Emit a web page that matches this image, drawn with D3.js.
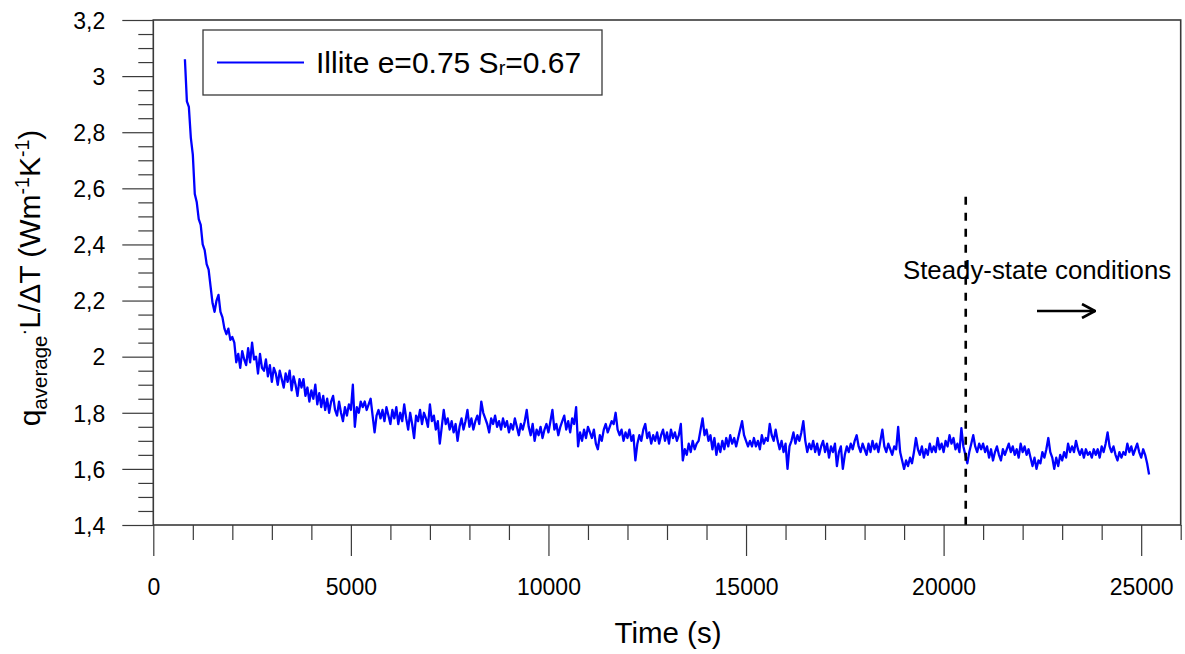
<!DOCTYPE html>
<html>
<head>
<meta charset="utf-8">
<script src="https://cdn.jsdelivr.net/npm/d3@7"></script>
<style>
  html, body { margin: 0; padding: 0; background: #fff; }
  svg { display: block; font-family: "Liberation Sans", Arial, sans-serif; }
</style>
</head>
<body>
<svg id="chart" width="1185" height="654"></svg>
<script>
// Logged measurement: first sample time and logging interval (s)
const sampleStart = 800;
const sampleStep = 50;

// q_average·L/ΔT readings (W m-1 K-1), one row per 1000 s of logging
const kValues = [
  3.06, 2.91, 2.89, 2.78, 2.72, 2.58, 2.55, 2.49, 2.47, 2.40, 2.38, 2.33, 2.31, 2.25, 2.19, 2.16, 2.20, 2.22, 2.16, 2.14,
  2.10, 2.08, 2.10, 2.06, 2.07, 2.05, 1.98, 2.01, 1.96, 2.02, 1.99, 1.97, 2.03, 1.98, 2.05, 1.99, 2.00, 1.94, 2.01, 1.96,
  1.95, 1.99, 1.93, 1.97, 1.91, 1.96, 1.94, 1.90, 1.95, 1.92, 1.89, 1.94, 1.91, 1.95, 1.88, 1.93, 1.90, 1.86, 1.92, 1.89,
  1.92, 1.86, 1.89, 1.84, 1.88, 1.85, 1.90, 1.83, 1.87, 1.82, 1.86, 1.81, 1.85, 1.80, 1.84, 1.86, 1.81, 1.79, 1.84, 1.80,
  1.77, 1.82, 1.79, 1.83, 1.81, 1.90, 1.75, 1.82, 1.80, 1.84, 1.82, 1.84, 1.81, 1.83, 1.85, 1.79, 1.73, 1.79, 1.81, 1.78,
  1.81, 1.77, 1.82, 1.79, 1.76, 1.81, 1.78, 1.82, 1.76, 1.80, 1.77, 1.83, 1.78, 1.74, 1.80, 1.76, 1.71, 1.79, 1.77, 1.81,
  1.76, 1.80, 1.78, 1.75, 1.83, 1.77, 1.79, 1.74, 1.77, 1.69, 1.75, 1.81, 1.76, 1.78, 1.74, 1.77, 1.73, 1.76, 1.70, 1.75,
  1.78, 1.74, 1.77, 1.81, 1.75, 1.78, 1.74, 1.77, 1.79, 1.76, 1.84, 1.80, 1.78, 1.76, 1.73, 1.78, 1.76, 1.79, 1.75, 1.77,
  1.74, 1.78, 1.75, 1.77, 1.73, 1.76, 1.74, 1.78, 1.75, 1.72, 1.76, 1.74, 1.77, 1.81, 1.75, 1.72, 1.76, 1.70, 1.74, 1.72,
  1.75, 1.71, 1.74, 1.76, 1.73, 1.77, 1.81, 1.74, 1.76, 1.72, 1.75, 1.77, 1.79, 1.74, 1.77, 1.73, 1.78, 1.76, 1.82, 1.68,
  1.73, 1.70, 1.74, 1.71, 1.75, 1.73, 1.71, 1.74, 1.69, 1.67, 1.72, 1.70, 1.74, 1.76, 1.73, 1.75, 1.77, 1.76, 1.80, 1.74,
  1.72, 1.74, 1.70, 1.73, 1.71, 1.74, 1.70, 1.72, 1.63, 1.69, 1.72, 1.70, 1.74, 1.76, 1.71, 1.73, 1.69, 1.72, 1.70, 1.73,
  1.69, 1.72, 1.74, 1.70, 1.73, 1.69, 1.74, 1.71, 1.73, 1.70, 1.72, 1.76, 1.63, 1.67, 1.65, 1.69, 1.66, 1.70, 1.67, 1.69,
  1.70, 1.74, 1.78, 1.72, 1.74, 1.70, 1.72, 1.67, 1.71, 1.65, 1.69, 1.66, 1.70, 1.67, 1.71, 1.68, 1.72, 1.69, 1.71, 1.68,
  1.71, 1.74, 1.77, 1.72, 1.70, 1.68, 1.70, 1.68, 1.71, 1.68, 1.70, 1.67, 1.72, 1.69, 1.71, 1.70, 1.76, 1.72, 1.70, 1.74,
  1.70, 1.67, 1.70, 1.66, 1.69, 1.60, 1.68, 1.70, 1.73, 1.69, 1.72, 1.70, 1.73, 1.77, 1.70, 1.66, 1.69, 1.67, 1.70, 1.66,
  1.69, 1.65, 1.68, 1.70, 1.66, 1.69, 1.64, 1.68, 1.66, 1.69, 1.61, 1.66, 1.68, 1.60, 1.65, 1.68, 1.66, 1.69, 1.67, 1.70,
  1.72, 1.68, 1.66, 1.69, 1.67, 1.65, 1.69, 1.66, 1.70, 1.67, 1.69, 1.66, 1.70, 1.74, 1.68, 1.66, 1.69, 1.67, 1.65, 1.68,
  1.67, 1.75, 1.66, 1.63, 1.60, 1.63, 1.61, 1.64, 1.62, 1.66, 1.71, 1.67, 1.65, 1.68, 1.64, 1.67, 1.65, 1.69, 1.66, 1.68,
  1.66, 1.71, 1.67, 1.69, 1.66, 1.70, 1.68, 1.72, 1.69, 1.71, 1.67, 1.69, 1.66, 1.745, 1.68, 1.65, 1.62, 1.66, 1.69, 1.72,
  1.68, 1.66, 1.69, 1.67, 1.69, 1.66, 1.68, 1.64, 1.67, 1.63, 1.66, 1.68, 1.65, 1.63, 1.67, 1.65, 1.67, 1.69, 1.66, 1.68,
  1.65, 1.67, 1.64, 1.69, 1.66, 1.68, 1.65, 1.67, 1.64, 1.61, 1.64, 1.60, 1.63, 1.62, 1.66, 1.64, 1.67, 1.71, 1.66, 1.64,
  1.60, 1.64, 1.61, 1.65, 1.63, 1.66, 1.64, 1.69, 1.66, 1.68, 1.66, 1.70, 1.67, 1.65, 1.67, 1.64, 1.67, 1.65, 1.66, 1.64,
  1.67, 1.65, 1.67, 1.64, 1.68, 1.66, 1.69, 1.73, 1.68, 1.66, 1.68, 1.65, 1.63, 1.66, 1.64, 1.66, 1.65, 1.69, 1.66, 1.68,
  1.65, 1.67, 1.69, 1.66, 1.64, 1.67, 1.65, 1.62, 1.58
];

// Axis ticks
const xMajorTicks = [0, 5000, 10000, 15000, 20000, 25000];
const xTickLabels = ["0", "5000", "10000", "15000", "20000", "25000"];
const yMajorTicks = [1.4, 1.6, 1.8, 2.0, 2.2, 2.4, 2.6, 2.8, 3.0, 3.2];
const yTickLabels = ["1,4", "1,6", "1,8", "2", "2,2", "2,4", "2,6", "2,8", "3", "3,2"];
const xMinorStep = 1000;
const yMinorStep = 0.05;

// Start of the steady-state period (s) and the top of its marker
const steadyStart = 20560;
const steadyMarkerTop = 2.57;

const seriesName = { main: "Illite e=0.75 S", sub: "r", tail: "=0.67" };

const svg = d3.select("#chart");
const plot = { left: 153.3, right: 1180.7, top: 20, bottom: 525 };

const x = d3.scaleLinear().domain([0, 26000]).range([plot.left, plot.right]);
const y = d3.scaleLinear().domain([1.4, 3.2]).range([plot.bottom, plot.top]);

const series = kValues.map((v, i) => ({ t: sampleStart + i * sampleStep, v }));

const axisColor = "#3a3a3a";

// Minor ticks
const xMinor = d3.range(0, 26000 + 1, xMinorStep).filter(d => d % 5000 !== 0);
const yMinor = d3.range(1.4, 3.2001, yMinorStep).filter(d => Math.abs(d * 5 - Math.round(d * 5)) > 1e-6);

svg.append("g")
  .attr("transform", `translate(0,${plot.bottom})`)
  .call(d3.axisBottom(x).tickValues(xMinor).tickSize(15).tickSizeOuter(0).tickFormat(""))
  .call(g => g.select(".domain").remove())
  .call(g => g.selectAll("line").attr("stroke", axisColor).attr("stroke-width", 1.2));

svg.append("g")
  .attr("transform", `translate(0,${plot.bottom})`)
  .call(d3.axisBottom(x).tickValues(xMajorTicks).tickSize(31).tickSizeOuter(0)
    .tickFormat((d, i) => xTickLabels[i]))
  .call(g => g.select(".domain").remove())
  .call(g => g.selectAll("line").attr("stroke", axisColor).attr("stroke-width", 1.2))
  .call(g => g.selectAll("text")
    .attr("y", 70).attr("dy", 0)
    .attr("fill", "#000")
    .style("font-size", "23px")
    .style("font-family", "'Liberation Sans', Arial, sans-serif"));

svg.append("g")
  .attr("transform", `translate(${plot.left},0)`)
  .call(d3.axisLeft(y).tickValues(yMinor).tickSize(15).tickSizeOuter(0).tickFormat(""))
  .call(g => g.select(".domain").remove())
  .call(g => g.selectAll("line").attr("stroke", axisColor).attr("stroke-width", 1.2));

svg.append("g")
  .attr("transform", `translate(${plot.left},0)`)
  .call(d3.axisLeft(y).tickValues(yMajorTicks).tickSize(31).tickSizeOuter(0)
    .tickFormat((d, i) => yTickLabels[i]))
  .call(g => g.select(".domain").remove())
  .call(g => g.selectAll("line").attr("stroke", axisColor).attr("stroke-width", 1.2))
  .call(g => g.selectAll("text")
    .attr("x", -48).attr("dy", "0.36em")
    .attr("fill", "#000")
    .style("font-size", "23px")
    .style("font-family", "'Liberation Sans', Arial, sans-serif"));

// Frame around the plot area
svg.append("rect")
  .attr("x", plot.left).attr("y", plot.top)
  .attr("width", plot.right - plot.left).attr("height", plot.bottom - plot.top)
  .attr("fill", "none").attr("stroke", axisColor).attr("stroke-width", 1.6);

// Data line
svg.append("clipPath").attr("id", "plot-clip")
  .append("rect")
  .attr("x", plot.left).attr("y", plot.top)
  .attr("width", plot.right - plot.left).attr("height", plot.bottom - plot.top);

const line = d3.line().x(d => x(d.t)).y(d => y(d.v));

svg.append("path")
  .datum(series)
  .attr("clip-path", "url(#plot-clip)")
  .attr("d", line)
  .attr("fill", "none")
  .attr("stroke", "#0000ff")
  .attr("stroke-width", 2.3)
  .attr("stroke-linejoin", "round");

// Steady-state marker
svg.append("line")
  .attr("x1", x(steadyStart)).attr("x2", x(steadyStart))
  .attr("y1", y(steadyMarkerTop)).attr("y2", plot.bottom)
  .attr("stroke", "#000").attr("stroke-width", 2.6)
  .attr("stroke-dasharray", "8,8");

svg.append("text")
  .attr("x", 903).attr("y", 279)
  .attr("fill", "#000")
  .style("font-size", "25.8px")
  .text("Steady-state conditions");

svg.append("defs").append("marker")
  .attr("id", "arrow-head")
  .attr("viewBox", "0 0 16 16").attr("refX", 15).attr("refY", 8)
  .attr("markerWidth", 16).attr("markerHeight", 16)
  .attr("markerUnits", "userSpaceOnUse")
  .attr("orient", "auto")
  .append("path")
  .attr("d", "M2,1 L15,8 L2,15")
  .attr("fill", "none").attr("stroke", "#000").attr("stroke-width", 2.6);

svg.append("line")
  .attr("x1", 1037).attr("x2", 1095)
  .attr("y1", 311).attr("y2", 311)
  .attr("stroke", "#000").attr("stroke-width", 2.6)
  .attr("marker-end", "url(#arrow-head)");

// Legend
const legend = svg.append("g");
legend.append("rect")
  .attr("x", 203).attr("y", 30).attr("width", 399).attr("height", 65)
  .attr("fill", "#fff").attr("stroke", axisColor).attr("stroke-width", 1.3);
legend.append("line")
  .attr("x1", 217).attr("x2", 304).attr("y1", 62.5).attr("y2", 62.5)
  .attr("stroke", "#0000ff").attr("stroke-width", 2);
const legendText = legend.append("text")
  .attr("x", 316).attr("y", 73)
  .attr("fill", "#000")
  .style("font-size", "30px");
legendText.append("tspan").text(seriesName.main);
legendText.append("tspan").attr("dy", 2).style("font-size", "20px").text(seriesName.sub);
legendText.append("tspan").attr("dy", -2).text(seriesName.tail);

// Axis titles
svg.append("text")
  .attr("x", 668).attr("y", 643)
  .attr("text-anchor", "middle")
  .attr("fill", "#000")
  .style("font-size", "29.5px")
  .text("Time (s)");

const yTitle = svg.append("text")
  .attr("transform", "translate(40,278) rotate(-90)")
  .attr("text-anchor", "middle")
  .attr("fill", "#000")
  .style("font-size", "30px");
yTitle.append("tspan").text("q");
yTitle.append("tspan").attr("dy", 7).style("font-size", "20.5px").text("average");
yTitle.append("tspan").attr("dy", -17).style("font-size", "20px").text("·");
yTitle.append("tspan").attr("dy", 10).text("L/ΔT (Wm");
yTitle.append("tspan").attr("dy", -11).style("font-size", "19.5px").text("-1");
yTitle.append("tspan").attr("dy", 11).text("K");
yTitle.append("tspan").attr("dy", -11).style("font-size", "19.5px").text("-1");
yTitle.append("tspan").attr("dy", 11).text(")");
</script>
</body>
</html>
